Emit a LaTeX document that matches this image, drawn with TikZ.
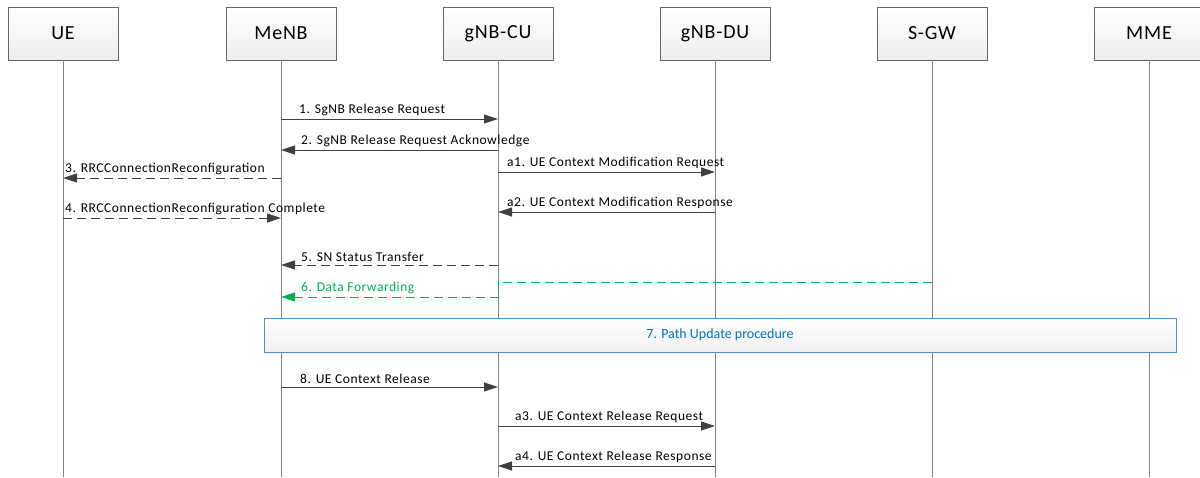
\documentclass[tikz,border=0pt]{standalone}
\usepackage{fontspec}
\setmainfont{Carlito}
\newfontfamily\visfont[LetterSpace=4]{Carlito}
\usetikzlibrary{arrows.meta}

\definecolor{lifegray}{HTML}{808080}
\definecolor{msggray}{HTML}{404040}
\definecolor{fwdgreen}{HTML}{00B050}
\definecolor{pathblue}{HTML}{0070C0}
\definecolor{pathedge}{HTML}{4A90D0}

\tikzset{
  entity/.style={draw=black!60, top color=white, bottom color=black!7,
    minimum width=110pt, minimum height=53pt, inner sep=0pt,
    font=\visfont\fontsize{20}{24}\selectfont},
  msg/.style={msggray, line width=0.8pt, -{Triangle[length=14pt,width=9pt]}},
  dmsg/.style={msg, dash pattern=on 9pt off 5pt},
  fwd/.style={dmsg, fwdgreen},
  lbl/.style={anchor=south west, inner sep=1pt, font=\visfont\fontsize{13.5}{16}\selectfont},
  pathbox/.style={draw=pathedge, line width=0.8pt, top color=white, bottom color=black!6,
    minimum width=912pt, minimum height=34pt, text=pathblue,
    font=\fontsize{14}{16}\selectfont},
}

\begin{document}
\begin{tikzpicture}[x=1pt, y=-1pt]
\useasboundingbox (0,0) rectangle (1200,477);

%\draw[step=100, gray!30] (0,0) grid (1200,477);

\foreach \n/\t/\x in {ue/UE/63, menb/MeNB/281, cu/gNB-CU/498, du/gNB-DU/715, sgw/S-GW/932, mme/MME/1149}{
  \node[entity] (\n) at (\x,33.5) {\t};
  \draw[lifegray, line width=0.8pt] (\n.south) -- (\n.south |- 0,477);
}

\draw[msg] (menb |- 0,119) -- (cu |- 0,119);
\node[lbl] at ([xshift=17pt]menb |- 0,117) {1. SgNB Release Request};

\draw[msg] (cu |- 0,150) -- (menb |- 0,150);
\node[lbl] at ([xshift=19pt]menb |- 0,148) {2. SgNB Release Request Acknowledge};

\draw[msg] (cu |- 0,172) -- (du |- 0,172);
\node[lbl] at ([xshift=8pt]cu |- 0,170) {a1. UE Context Modification Request};

\draw[dmsg] (menb |- 0,178) -- (ue |- 0,178);
\node[lbl] at ([xshift=1pt]ue |- 0,176) {3. RRCConnectionReconfiguration};

\draw[msg] (du |- 0,212) -- (cu |- 0,212);
\node[lbl] at ([xshift=8pt]cu |- 0,210) {a2. UE Context Modification Response};

\draw[dmsg] (ue |- 0,218) -- (menb |- 0,218);
\node[lbl] at ([xshift=1pt]ue |- 0,216) {4. RRCConnectionReconfiguration Complete};

\draw[dmsg] (cu |- 0,265) -- (menb |- 0,265);
\node[lbl] at ([xshift=19pt]menb |- 0,263) {5. SN Status Transfer};

\draw[fwd] (sgw |- 0,282) -- (cu |- 0,282) -- (cu |- 0,297) -- (menb |- 0,297);
\node[lbl, text=fwdgreen] at ([xshift=19pt]menb |- 0,295) {6. Data Forwarding};

\node[pathbox] (path) at (720,335) {7. Path Update procedure};

\draw[msg] (menb |- 0,387) -- (cu |- 0,387);
\node[lbl] at ([xshift=18pt]menb |- 0,385) {8. UE Context Release};

\draw[msg] (cu |- 0,426) -- (du |- 0,426);
\node[lbl] at ([xshift=16pt]cu |- 0,424) {a3. UE Context Release Request};

\draw[msg] (du |- 0,466) -- (cu |- 0,466);
\node[lbl] at ([xshift=16pt]cu |- 0,464) {a4. UE Context Release Response};

\end{tikzpicture}
\end{document}
